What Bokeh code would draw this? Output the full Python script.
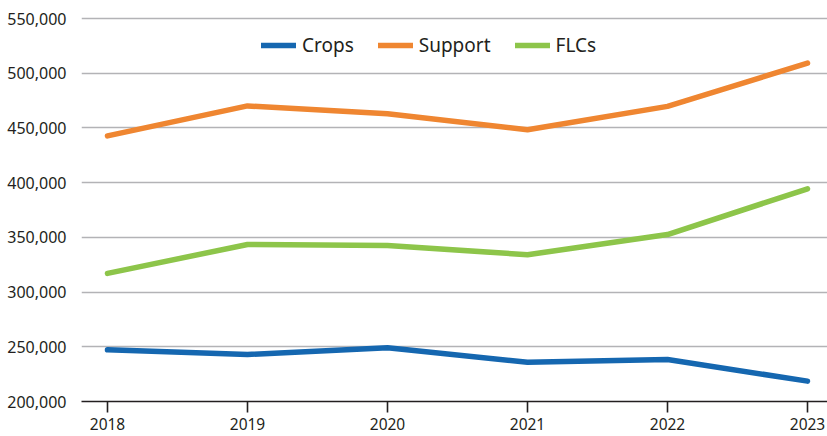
from bokeh.plotting import figure
from bokeh.models import Range1d, FixedTicker, NumeralTickFormatter, Legend, LegendItem
from bokeh.embed import file_html
from bokeh.resources import INLINE

years = [2018, 2019, 2020, 2021, 2022, 2023]
crops = [247200, 243000, 249100, 235900, 238400, 218600]
support = [442700, 470100, 462900, 448400, 469700, 509200]
flcs = [317100, 343500, 342600, 334100, 352600, 394400]
y_ticks = [200000, 250000, 300000, 350000, 400000, 450000, 500000, 550000]
series_names = ["Crops", "Support", "FLCs"]
colors = ["#1567b0", "#ef8631", "#8dc54a"]

FONT = "Noto Sans"
TXT = "#231f20"

left = 81
frame_w = 746
frame_h = 401
px_per_year = 140.0
x0 = years[0] - 26 / px_per_year
x1 = x0 + frame_w / px_per_year

top_pad = 18
y_lo, y_hi = y_ticks[0], y_ticks[-1]
y_end = y_hi + top_pad * (y_hi - y_lo) / (frame_h - top_pad)

p = figure(frame_width=frame_w, frame_height=frame_h, output_backend="svg", toolbar_location=None,
           x_range=Range1d(x0, x1), y_range=Range1d(y_lo, y_end),
           min_border_left=left, min_border_right=0, min_border_top=0, min_border_bottom=35)
p.outline_line_color = None
p.background_fill_color = "white"
p.border_fill_color = "white"

renderers = []
for name, vals, c in zip(series_names, [crops, support, flcs], colors):
    r = p.line(years, vals, line_color=c, line_width=5.5, line_cap="round", line_join="round")
    renderers.append((name, r))

p.xgrid.grid_line_color = None
p.ygrid.grid_line_color = "#b3b3b6"
p.ygrid.grid_line_width = 1.3
p.ygrid.ticker = FixedTicker(ticks=y_ticks)

p.xaxis.ticker = FixedTicker(ticks=years)
p.xaxis.axis_line_color = TXT
p.xaxis.axis_line_width = 1.6
p.xaxis.major_tick_line_color = TXT
p.xaxis.major_tick_line_width = 1.6
p.xaxis.major_tick_out = 11
p.xaxis.major_tick_in = 0
p.xaxis.minor_tick_line_color = None
p.xaxis.major_label_text_font = FONT
p.xaxis.major_label_text_font_size = "15.5px"
p.xaxis.major_label_text_color = TXT
p.xaxis.major_label_standoff = 5

p.yaxis.ticker = FixedTicker(ticks=y_ticks)
p.yaxis.formatter = NumeralTickFormatter(format="0,0")
p.yaxis.axis_line_color = None
p.yaxis.major_tick_line_color = None
p.yaxis.minor_tick_line_color = None
p.yaxis.major_label_text_font = FONT
p.yaxis.major_label_text_font_size = "16px"
p.yaxis.major_label_text_color = TXT
p.yaxis.major_label_standoff = 9

legend = Legend(items=[LegendItem(label=n, renderers=[r]) for n, r in renderers],
                orientation="horizontal", location=(180, frame_h - 58),
                glyph_width=35, glyph_height=20, label_standoff=6, spacing=24,
                padding=0, margin=0, border_line_color=None, background_fill_alpha=0,
                label_text_font=FONT, label_text_font_size="19px", label_text_color=TXT)
p.add_layout(legend)

open("out.html", "w").write(file_html(p, INLINE))
